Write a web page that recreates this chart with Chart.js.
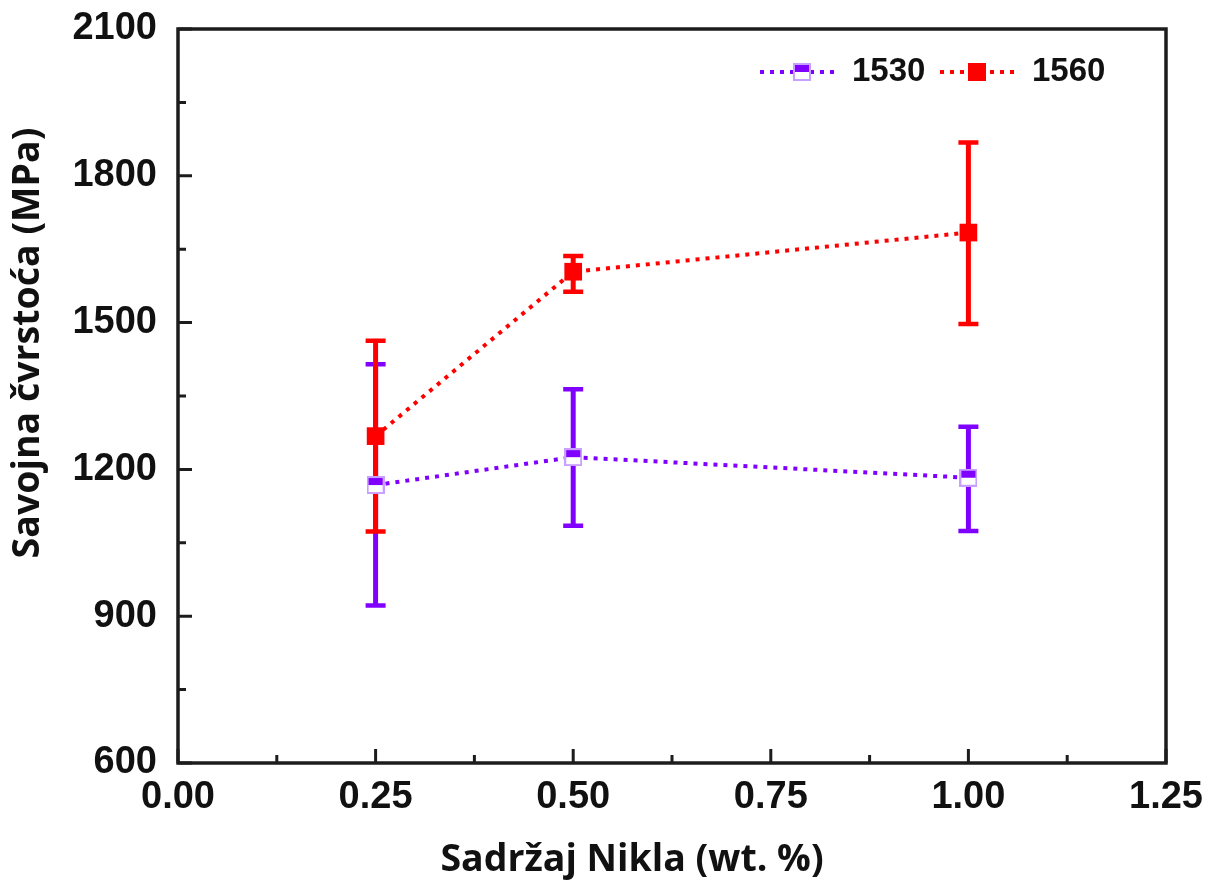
<!DOCTYPE html>
<html>
<head>
<meta charset="utf-8">
<script src="https://cdn.jsdelivr.net/npm/chart.js@4.4.1/dist/chart.umd.min.js"></script>
<style>
html,body{margin:0;padding:0;background:#fff;}
#wrap{width:1215px;height:881px;}
</style>
</head>
<body>
<div id="wrap"><canvas id="c" width="1215" height="881"></canvas></div>
<script>
// ---- data ----
const nickel = [0.25, 0.5, 1.0];
const series1530 = [1168, 1225, 1183];
const err1530Low = [922, 1085, 1074];
const err1530High = [1415, 1364, 1287];
const series1560 = [1268, 1604, 1684];
const err1560Low = [1073, 1563, 1497];
const err1560High = [1463, 1636, 1868];
const seriesNames = ['1530', '1560'];
const xTicks = [0, 0.25, 0.5, 0.75, 1.0, 1.25];
const yTicks = [600, 900, 1200, 1500, 1800, 2100];
const xTitle = 'Sadržaj Nikla (wt. %)';
const yTitle = 'Savojna čvrstoća (MPa)';

const PURPLE = '#8000ff';
const PURPLE_LIGHT = '#c8a0ff';
const RED = '#ff0000';
const AXIS = '#1c1c1c';

function halfSquare(size) {
  const c = document.createElement('canvas');
  c.width = size; c.height = size;
  const g = c.getContext('2d');
  g.fillStyle = '#ffffff';
  g.fillRect(0, 0, size, size);
  g.fillStyle = PURPLE;
  g.fillRect(0, 0, size, size / 2);
  g.strokeStyle = PURPLE_LIGHT;
  g.lineWidth = 2;
  g.strokeRect(1, 1, size - 2, size - 2);
  return c;
}
const mark1530 = halfSquare(18);

const errorBars = {
  id: 'errorBars',
  beforeDatasetsDraw(chart) {
    const {ctx, scales: {x, y}} = chart;
    const sets = [
      {lo: err1530Low, hi: err1530High, color: PURPLE},
      {lo: err1560Low, hi: err1560High, color: RED}
    ];
    ctx.save();
    sets.forEach(s => {
      ctx.strokeStyle = s.color;
      nickel.forEach((xv, i) => {
        const px = x.getPixelForValue(xv);
        const pl = y.getPixelForValue(s.lo[i]);
        const ph = y.getPixelForValue(s.hi[i]);
        ctx.lineWidth = 5;
        ctx.beginPath(); ctx.moveTo(px, pl); ctx.lineTo(px, ph); ctx.stroke();
        ctx.lineWidth = 4.5;
        ctx.beginPath();
        ctx.moveTo(px - 10, pl); ctx.lineTo(px + 10, pl);
        ctx.moveTo(px - 10, ph); ctx.lineTo(px + 10, ph);
        ctx.stroke();
      });
    });
    ctx.restore();
  }
};

const frame = {
  id: 'frame',
  afterDraw(chart) {
    const {ctx, chartArea: a, scales: {x, y}} = chart;
    ctx.save();
    ctx.strokeStyle = AXIS;
    ctx.lineWidth = 3.5;
    ctx.strokeRect(a.left, a.top, a.right - a.left, a.bottom - a.top);
    ctx.lineWidth = 3;
    ctx.beginPath();
    xTicks.forEach((v, i) => {
      const px = x.getPixelForValue(v);
      ctx.moveTo(px, a.bottom); ctx.lineTo(px, a.bottom - 14);
      if (i < xTicks.length - 1) {
        const pm = x.getPixelForValue((v + xTicks[i + 1]) / 2);
        ctx.moveTo(pm, a.bottom); ctx.lineTo(pm, a.bottom - 8);
      }
    });
    yTicks.forEach((v, i) => {
      const py = y.getPixelForValue(v);
      ctx.moveTo(a.left, py); ctx.lineTo(a.left + 14, py);
      if (i < yTicks.length - 1) {
        const pm = y.getPixelForValue((v + yTicks[i + 1]) / 2);
        ctx.moveTo(a.left, pm); ctx.lineTo(a.left + 8, pm);
      }
    });
    ctx.stroke();

    // axis titles
    ctx.fillStyle = '#111';
    ctx.font = 'bold 37.5px "Open Sans"';
    ctx.textAlign = 'center';
    ctx.textBaseline = 'middle';
    ctx.fillText(xTitle, 632, 860);
    ctx.save();
    ctx.translate(28, 343);
    ctx.rotate(-Math.PI / 2);
    ctx.fillText(yTitle, 0, 0);
    ctx.restore();

    // legend
    const items = [
      {name: seriesNames[0], color: PURPLE, x0: 760, x1: 838, mx: 802, tx: 852, img: mark1530},
      {name: seriesNames[1], color: RED, x0: 940, x1: 1018, mx: 977, tx: 1032, img: null}
    ];
    const ly = 72;
    items.forEach(it => {
      ctx.strokeStyle = it.color;
      ctx.lineWidth = 4;
      ctx.setLineDash([4, 6]);
      ctx.beginPath(); ctx.moveTo(it.x0, ly); ctx.lineTo(it.x1, ly); ctx.stroke();
      ctx.setLineDash([]);
      if (it.img) {
        ctx.drawImage(it.img, it.mx - 9, ly - 9);
      } else {
        ctx.fillStyle = it.color;
        ctx.fillRect(it.mx - 9, ly - 9, 18, 18);
      }
      ctx.fillStyle = '#111';
      ctx.font = 'bold 33px "Liberation Sans"';
      ctx.textAlign = 'left';
      ctx.textBaseline = 'middle';
      ctx.fillText(it.name, it.tx, ly);
    });
    ctx.restore();
  }
};

new Chart(document.getElementById('c'), {
  type: 'scatter',
  data: {
    datasets: [
      {
        label: seriesNames[0],
        data: nickel.map((v, i) => ({x: v, y: series1530[i]})),
        showLine: true,
        borderColor: PURPLE,
        borderWidth: 4,
        borderDash: [4, 6],
        pointStyle: mark1530,
        pointRadius: 9,
        pointHoverRadius: 9
      },
      {
        label: seriesNames[1],
        data: nickel.map((v, i) => ({x: v, y: series1560[i]})),
        showLine: true,
        borderColor: RED,
        backgroundColor: RED,
        borderWidth: 4,
        borderDash: [4, 6],
        pointStyle: 'rect',
        pointRadius: 12.5,
        pointBorderWidth: 0,
        pointHoverRadius: 12.5
      }
    ]
  },
  options: {
    responsive: false,
    animation: false,
    layout: {padding: {top: 29, right: 49, left: 0, bottom: 0}},
    plugins: {legend: {display: false}, tooltip: {enabled: false}},
    scales: {
      x: {
        type: 'linear', min: 0, max: 1.25,
        afterBuildTicks(s) { s.ticks = xTicks.map(v => ({value: v})); },
        afterFit(s) { s.height = 118; s.paddingLeft = 0; s.paddingRight = 0; },
        grid: {display: false, drawTicks: false},
        border: {display: false},
        ticks: {
          padding: 12,
          color: '#111',
          font: {family: 'Liberation Sans', weight: 'bold', size: 38},
          callback: v => v.toFixed(2),
          maxRotation: 0
        }
      },
      y: {
        type: 'linear', min: 600, max: 2100,
        afterBuildTicks(s) { s.ticks = yTicks.map(v => ({value: v})); },
        afterFit(s) { s.width = 178; s.paddingTop = 0; s.paddingBottom = 0; },
        grid: {display: false, drawTicks: false},
        border: {display: false},
        ticks: {
          padding: 21,
          color: '#111',
          font: {family: 'Liberation Sans', weight: 'bold', size: 38},
          callback: v => String(v)
        }
      }
    }
  },
  plugins: [errorBars, frame]
});
</script>
</body>
</html>
